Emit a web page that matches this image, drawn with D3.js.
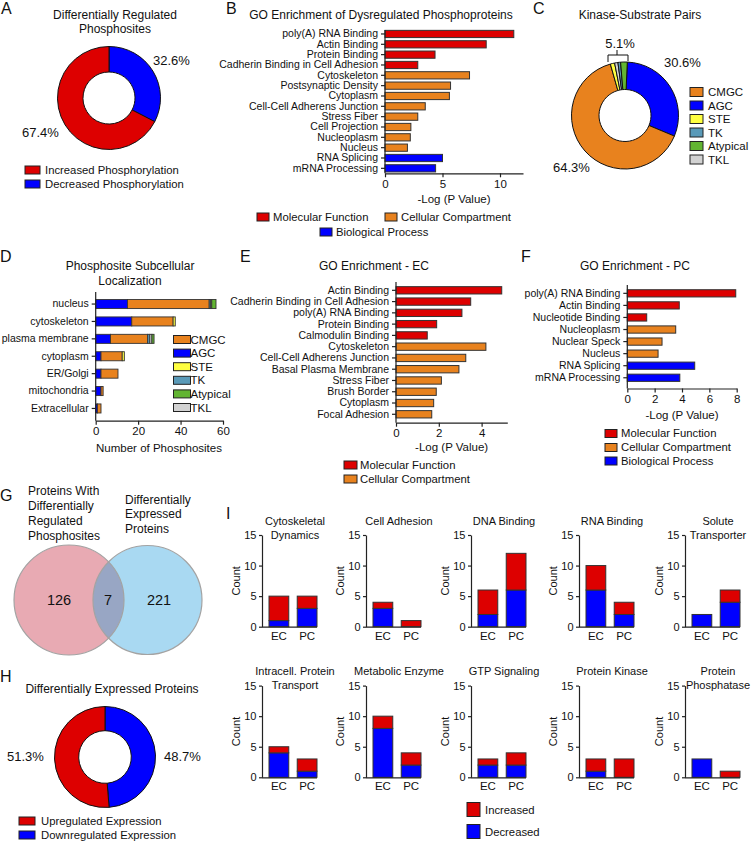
<!DOCTYPE html>
<html><head><meta charset="utf-8">
<script src="https://cdn.jsdelivr.net/npm/d3@7"></script>
<style>body{margin:0;background:#fff} svg{display:block;font-family:"Liberation Sans",Arial,Helvetica,sans-serif;fill:#111}</style>
</head><body><svg id="c" width="754" height="851"></svg>
<script>
// ---------------- DATA ----------------
// A
const A_labels = ["Decreased Phosphorylation", "Increased Phosphorylation"];
const A_values = [32.6, 67.4];
// B
const B_categories = ["poly(A) RNA Binding","Actin Binding","Protein Binding","Cadherin Binding in Cell Adhesion","Cytoskeleton","Postsynaptic Density","Cytoplasm","Cell-Cell Adherens Junction","Stress Fiber","Cell Projection","Nucleoplasm","Nucleus","RNA Splicing","mRNA Processing"];
const B_values = [11.2, 8.8, 4.35, 2.85, 7.35, 5.7, 5.6, 3.5, 2.85, 2.25, 2.2, 1.95, 5.0, 4.4];
const B_groups = ["MF","MF","MF","MF","CC","CC","CC","CC","CC","CC","CC","CC","BP","BP"];
const B_ticks = [0, 5, 10];
// C
const C_order = ["AGC","CMGC","STE","TKL","TK","Atypical"];
const C_values = [30.6, 64.3, 1.3, 1.0, 0.8, 2.0];
const C_legend = ["CMGC","AGC","STE","TK","Atypical","TKL"];
// D
const D_categories = ["nucleus","cytoskeleton","plasma membrane","cytoplasm","ER/Golgi","mitochondria","Extracellular"];
const D_AGC      = [15, 17, 7, 2.5, 2.5, 2.5, 0.8];
const D_CMGC     = [38.5, 19.5, 17.5, 10, 8, 1, 1.7];
const D_STE      = [0, 1, 0, 1, 0, 0, 0];
const D_TK       = [0.7, 0, 1, 0, 0, 0, 0];
const D_TKL      = [0.5, 0, 1, 0, 0, 0, 0];
const D_Atypical = [2, 0, 1, 0, 0, 0, 0];
const D_ticks = [0, 20, 40, 60];
// E
const E_categories = ["Actin Binding","Cadherin Binding in Cell Adhesion","poly(A) RNA Binding","Protein Binding","Calmodulin Binding","Cytoskeleton","Cell-Cell Adherens Junction","Basal Plasma Membrane","Stress Fiber","Brush Border","Cytoplasm","Focal Adhesion"];
const E_values = [4.94, 3.49, 3.08, 1.9, 1.46, 4.2, 3.26, 2.94, 2.12, 1.88, 1.76, 1.67];
const E_groups = ["MF","MF","MF","MF","MF","CC","CC","CC","CC","CC","CC","CC"];
const E_ticks = [0, 2, 4];
// F
const F_categories = ["poly(A) RNA Binding","Actin Binding","Nucleotide Binding","Nucleoplasm","Nuclear Speck","Nucleus","RNA Splicing","mRNA Processing"];
const F_values = [7.93, 3.8, 1.42, 3.54, 2.54, 2.25, 4.93, 3.84];
const F_groups = ["MF","MF","MF","CC","CC","CC","BP","BP"];
const F_ticks = [0, 2, 4, 6, 8];
// G
const G_counts = [126, 7, 221];
// H
const H_labels = ["Downregulated Expression", "Upregulated Expression"];
const H_values = [48.7, 51.3];
// I
const I_titles = [["Cytoskeletal","Dynamics"],["Cell Adhesion"],["DNA Binding"],["RNA Binding"],["Solute","Transporter"],
                  ["Intracell. Protein","Transport"],["Metabolic Enzyme"],["GTP Signaling"],["Protein Kinase"],["Protein","Phosphatase"]];
const I_groups = ["EC","PC"];
const I_decreased = [[1,3],[3,0],[2,6],[6,2],[2,4],[4,1],[8,2],[2,2],[1,0],[3,0]];
const I_increased = [[4,2],[1,1],[4,6],[4,2],[0,2],[1,2],[2,2],[1,2],[2,3],[0,1]];
const I_ticks = [0, 5, 10, 15];

// ---------------- STYLE ----------------
const RED = "#dd0000", BLUE = "#0000ff", ORANGE = "#e8821e", YELLOW = "#ffff40", TKC = "#5a9ab8", GREEN = "#62b532", GRAY = "#d2d2d2";
const groupColor = {MF: RED, CC: ORANGE, BP: BLUE};
const kinColor = {CMGC: ORANGE, AGC: BLUE, STE: YELLOW, TK: TKC, Atypical: GREEN, TKL: GRAY};
const AX = "#222";
const fmtInt = d3.format("d");

const svg = d3.select("#c");

function txt(x, y, s, size, anchor="start", extra={}) {
  const t = svg.append("text").attr("x", x).attr("y", y).attr("dy", "0.35em")
    .attr("font-size", size).attr("text-anchor", anchor).text(s);
  for (const k in extra) t.attr(k, extra[k]);
  return t;
}
function letter(x, y, s) { svg.append("text").attr("x", x).attr("y", y).attr("font-size", 16).text(s); }
function swatch(x, y, w, h, fill) {
  svg.append("rect").attr("x", x).attr("y", y - h/2).attr("width", w).attr("height", h)
    .attr("fill", fill).attr("stroke", "#222").attr("stroke-width", 1);
}
function styleAxis(g, fs) {
  g.attr("font-family", null).attr("font-size", fs);
  g.selectAll("path,line").attr("stroke", AX).attr("stroke-width", 1.2);
  g.selectAll("text").attr("font-size", fs).attr("fill", "#111");
}

// horizontal bar chart
function hbar(o) {
  const x = d3.scaleLinear().domain([0, o.xmax]).range([o.x0, o.x1]);
  const y = d3.scaleBand().domain(o.cats).range([o.y0, o.y1]).paddingInner(o.pi).paddingOuter(o.po);
  svg.append("g").selectAll("rect").data(o.cats).join("rect")
    .attr("x", x(0)).attr("y", d => y(d)).attr("height", y.bandwidth())
    .attr("width", (d, i) => x(o.vals[i]) - x(0))
    .attr("fill", (d, i) => o.colors[i]).attr("stroke", "#333").attr("stroke-width", 1);
  const gy = svg.append("g").attr("transform", `translate(${o.x0},0)`)
    .call(d3.axisLeft(y).tickSize(4).tickPadding(3).tickSizeOuter(0));
  gy.select(".domain").remove();
  styleAxis(gy, o.catFs || 10.5);
  svg.append("line").attr("x1", o.x0).attr("x2", o.x0).attr("y1", o.ytop).attr("y2", o.axisY)
    .attr("stroke", AX).attr("stroke-width", 1.2);
  const gx = svg.append("g").attr("transform", `translate(0,${o.axisY})`)
    .call(d3.axisBottom(x).tickValues(o.ticks).tickFormat(fmtInt).tickSize(4).tickPadding(2.5).tickSizeOuter(0));
  styleAxis(gx, 11.5);
  txt((o.x0 + o.x1) / 2, o.xlabY, "-Log (P Value)", 11.5, "middle");
}

function donut(cx, cy, rOut, rIn, vals, colors, start) {
  const pie = d3.pie().sort(null).value(d => d).startAngle(start).endAngle(start + 2 * Math.PI);
  const arc = d3.arc().innerRadius(rIn).outerRadius(rOut);
  svg.append("g").attr("transform", `translate(${cx},${cy})`)
    .selectAll("path").data(pie(vals)).join("path").attr("d", arc)
    .attr("fill", (d, i) => colors[i]).attr("stroke", "#111").attr("stroke-width", 1);
}

// ---------------- A ----------------
letter(1, 14, "A");
txt(115, 15, "Differentially Regulated", 12, "middle");
txt(115, 29, "Phosphosites", 12, "middle");
donut(109, 98, 51.5, 26, A_values, [BLUE, RED], 0);
txt(153, 60, "32.6%", 13);
txt(22, 132, "67.4%", 13);
swatch(25, 170, 15, 8, RED); txt(45, 170, "Increased Phosphorylation", 11.3);
swatch(25, 184, 15, 8, BLUE); txt(45, 184, "Decreased Phosphorylation", 11.3);

// ---------------- B ----------------
letter(226, 14, "B");
txt(381, 15, "GO Enrichment of Dysregulated Phosphoproteins", 12, "middle");
hbar({cats: B_categories, vals: B_values, colors: B_groups.map(g => groupColor[g]),
  xmax: 12, x0: 385, x1: 523, y0: 28.8, y1: 173.5, pi: 0.3, po: 0.15, ytop: 30, axisY: 173.3,
  ticks: B_ticks, xlabY: 199});
swatch(257, 217, 12, 8, RED); txt(273, 217, "Molecular Function", 11.3);
swatch(385, 217, 12, 8, ORANGE); txt(401, 217, "Cellular Compartment", 11.3);
swatch(320, 232, 12, 8, BLUE); txt(336, 232, "Biological Process", 11.3);

// ---------------- C ----------------
letter(533, 14, "C");
txt(640, 15, "Kinase-Substrate Pairs", 12, "middle");
donut(625, 115.5, 53.5, 26, C_values, C_order.map(k => kinColor[k]), 0.043);
svg.append("path").attr("d", "M608,62 L608,55 L628,55 L628,61 M617,55 L617,50")
  .attr("fill", "none").attr("stroke", "#111").attr("stroke-width", 1);
txt(620, 43, "5.1%", 13, "middle");
txt(664, 62, "30.6%", 13);
txt(553, 167, "64.3%", 13);
C_legend.forEach((k, i) => {
  const yy = 92 + i * 13.5;
  swatch(690, yy, 13, 9, kinColor[k]); txt(708, yy, k, 11.5);
});

// ---------------- D ----------------
letter(0, 262, "D");
txt(130, 266, "Phosphosite Subcellular", 12, "middle");
txt(130, 281, "Localization", 12, "middle");
{
  const keys = ["AGC","CMGC","STE","TK","TKL","Atypical"];
  const arr = {AGC: D_AGC, CMGC: D_CMGC, STE: D_STE, TK: D_TK, TKL: D_TKL, Atypical: D_Atypical};
  const rows = D_categories.map((c, i) => { const r = {cat: c}; keys.forEach(k => r[k] = arr[k][i]); return r; });
  const stack = d3.stack().keys(keys)(rows);
  const x = d3.scaleLinear().domain([0, 60]).range([95.7, 223]);
  const y = d3.scaleBand().domain(D_categories).range([294.3, 418.2]).paddingInner(0.48).paddingOuter(0.3);
  svg.append("g").selectAll("g").data(stack).join("g").attr("fill", s => kinColor[s.key])
    .selectAll("rect").data(s => s.filter(d => d[1] - d[0] > 0)).join("rect")
    .attr("x", d => x(d[0])).attr("width", d => x(d[1]) - x(d[0]))
    .attr("y", d => y(d.data.cat)).attr("height", y.bandwidth())
    .attr("stroke", "#333").attr("stroke-width", 0.9);
  const gy = svg.append("g").attr("transform", "translate(95.7,0)")
    .call(d3.axisLeft(y).tickSize(4).tickPadding(3).tickSizeOuter(0));
  gy.select(".domain").remove();
  styleAxis(gy, 10.5);
  svg.append("line").attr("x1", 95.7).attr("x2", 95.7).attr("y1", 292).attr("y2", 420.7)
    .attr("stroke", AX).attr("stroke-width", 1.2);
  const gx = svg.append("g").attr("transform", "translate(0,420.7)")
    .call(d3.axisBottom(x).tickValues(D_ticks).tickFormat(fmtInt).tickSize(4).tickPadding(2.5).tickSizeOuter(0));
  styleAxis(gx, 11.5);
  txt(159, 448, "Number of Phosphosites", 11.5, "middle");
  C_legend.forEach((k, i) => {
    const yy = 339.5 + i * 13.6;
    swatch(173.5, yy, 17, 8, kinColor[k]); txt(190.5, yy, k, 11.5);
  });
}

// ---------------- E ----------------
letter(240, 262, "E");
txt(374, 266, "GO Enrichment - EC", 12, "middle");
hbar({cats: E_categories, vals: E_values, colors: E_groups.map(g => groupColor[g]),
  xmax: 5.2, x0: 396, x1: 507.3, y0: 284.4, y1: 420.2, pi: 0.35, po: 0.2, ytop: 282, axisY: 422.7,
  ticks: E_ticks, xlabY: 447});
swatch(344, 465, 13, 8, RED); txt(360, 465, "Molecular Function", 11.3);
swatch(344, 479, 13, 8, ORANGE); txt(360, 479, "Cellular Compartment", 11.3);

// ---------------- F ----------------
letter(521, 262, "F");
txt(635, 266, "GO Enrichment - PC", 12, "middle");
hbar({cats: F_categories, vals: F_values, colors: F_groups.map(g => groupColor[g]),
  xmax: 8, x0: 627.3, x1: 736.7, y0: 287.3, y1: 383.8, pi: 0.4, po: 0.2, ytop: 285, axisY: 388.5,
  ticks: F_ticks, xlabY: 415});
swatch(605, 433.5, 12, 8, RED); txt(621, 433.5, "Molecular Function", 11.3);
swatch(605, 447.5, 12, 8, ORANGE); txt(621, 447.5, "Cellular Compartment", 11.3);
swatch(605, 461, 12, 8, BLUE); txt(621, 461, "Biological Process", 11.3);

// ---------------- G ----------------
letter(0, 501, "G");
["Proteins With","Differentially","Regulated","Phosphosites"].forEach((s, i) => txt(28, 491 + i * 14.8, s, 12));
["Differentially","Expressed","Proteins"].forEach((s, i) => txt(125, 499.5 + i * 14.5, s, 12));
{
  const L = {x: 69, y: 600, r: 55}, R = {x: 147.5, y: 600, r: 54.5};
  const defs = svg.append("defs");
  defs.append("clipPath").attr("id", "clipL").append("circle").attr("cx", L.x).attr("cy", L.y).attr("r", L.r);
  svg.append("circle").attr("cx", L.x).attr("cy", L.y).attr("r", L.r).attr("fill", "#e8aab3");
  svg.append("circle").attr("cx", R.x).attr("cy", R.y).attr("r", R.r).attr("fill", "#a9d9f2");
  svg.append("circle").attr("cx", R.x).attr("cy", R.y).attr("r", R.r).attr("fill", "#98a6c4").attr("clip-path", "url(#clipL)");
  [L, R].forEach(c => svg.append("circle").attr("cx", c.x).attr("cy", c.y).attr("r", c.r)
    .attr("fill", "none").attr("stroke", "#a3a3a3").attr("stroke-width", 1.2));
  txt(59, 600, String(G_counts[0]), 14.5, "middle");
  txt(108, 600, String(G_counts[1]), 14.5, "middle");
  txt(159, 600, String(G_counts[2]), 14.5, "middle");
}

// ---------------- H ----------------
letter(0, 682, "H");
txt(112, 689, "Differentially Expressed Proteins", 12, "middle");
donut(105, 757, 50.5, 26.3, H_values, [BLUE, RED], 0);
txt(7, 756, "51.3%", 13);
txt(164, 756, "48.7%", 13);
swatch(19, 821, 16, 8, RED); txt(41, 821, "Upregulated Expression", 11.3);
swatch(19, 835, 16, 8, BLUE); txt(41, 835, "Downregulated Expression", 11.3);

// ---------------- I ----------------
letter(226, 519, "I");
{
  const colX = [262, 366, 471, 579, 685];
  const rowY0 = [626.7, 777.3];
  const rowTitle = [520.7, 670.7];
  I_titles.forEach((title, i) => {
    const r = Math.floor(i / 5), c = i % 5;
    const ax = colX[c], y0 = rowY0[r];
    const y = d3.scaleLinear().domain([0, 15]).range([y0, y0 - 91.7]);
    const x = d3.scaleBand().domain(I_groups).range([ax + 7, ax + 55]).paddingInner(0.3);
    I_groups.forEach((gname, j) => {
      const dec = I_decreased[i][j], inc = I_increased[i][j];
      if (dec > 0) svg.append("rect").attr("x", x(gname)).attr("width", x.bandwidth())
        .attr("y", y(dec)).attr("height", y(0) - y(dec)).attr("fill", BLUE).attr("stroke", "#333").attr("stroke-width", 1);
      if (inc > 0) svg.append("rect").attr("x", x(gname)).attr("width", x.bandwidth())
        .attr("y", y(dec + inc)).attr("height", y(dec) - y(dec + inc)).attr("fill", RED).attr("stroke", "#333").attr("stroke-width", 1);
    });
    const gy = svg.append("g").attr("transform", `translate(${ax},0)`)
      .call(d3.axisLeft(y).tickValues(I_ticks).tickFormat(fmtInt).tickSize(3).tickPadding(2.5).tickSizeOuter(0));
    styleAxis(gy, 11);
    const gx = svg.append("g").attr("transform", `translate(0,${y0})`)
      .call(d3.axisBottom(x).tickSize(0).tickPadding(5));
    gx.select(".domain").attr("d", `M${ax},0.5H${ax + 55}`);
    styleAxis(gx, 11.5);
    txt(ax - 26, (y0 + y(15)) / 2, "Count", 11, "middle", {transform: `rotate(-90,${ax - 26},${(y0 + y(15)) / 2})`});
    title.forEach((s, k) => txt(ax + 33, rowTitle[r] + k * 14, s, 11, "middle"));
  });
  svg.append("rect").attr("x", 467).attr("y", 802.5).attr("width", 13).attr("height", 14).attr("fill", RED).attr("stroke", "#222");
  txt(485, 810, "Increased", 11.3);
  svg.append("rect").attr("x", 467).attr("y", 824.5).attr("width", 13).attr("height", 14).attr("fill", BLUE).attr("stroke", "#222");
  txt(485, 832, "Decreased", 11.3);
}
</script></body></html>
